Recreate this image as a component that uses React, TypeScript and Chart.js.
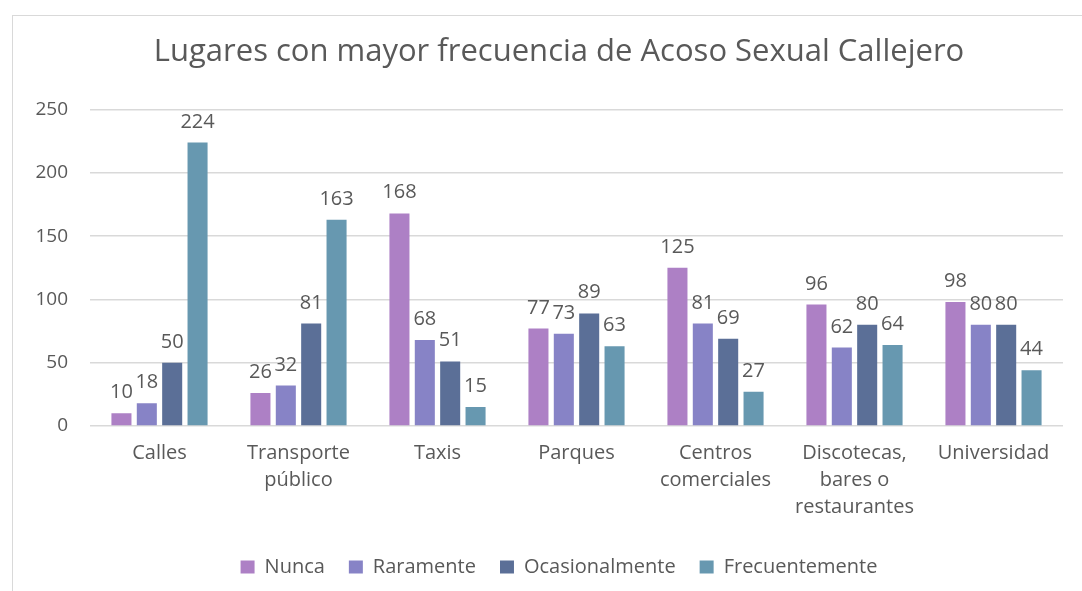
import React, { useEffect, useRef } from 'react';
import { Chart, registerables } from 'chart.js';

Chart.register(...registerables);

const chartTitle = 'Lugares con mayor frecuencia de Acoso Sexual Callejero';
const categories: string[][] = [
  ['Calles'],
  ['Transporte', 'público'],
  ['Taxis'],
  ['Parques'],
  ['Centros', 'comerciales'],
  ['Discotecas,', 'bares o', 'restaurantes'],
  ['Universidad'],
];
const seriesNames = ['Nunca', 'Raramente', 'Ocasionalmente', 'Frecuentemente'];
const nunca = [10, 26, 168, 77, 125, 96, 98];
const raramente = [18, 32, 68, 73, 81, 62, 80];
const ocasionalmente = [50, 81, 51, 89, 69, 80, 80];
const frecuentemente = [224, 163, 15, 63, 27, 64, 44];
const seriesColors = ['#AD80C5', '#8783C6', '#5B6F97', '#6798B0'];
const yMin = 0;
const yMax = 250;
const yStep = 50;

const FONT = '"Open Sans", "Noto Sans", sans-serif';
const TEXT = '#595959';

const dataLabelPlugin = {
  id: 'dataLabels',
  afterDatasetsDraw(chart: any) {
    const ctx = chart.ctx;
    ctx.save();
    ctx.font = `20px ${FONT}`;
    ctx.fillStyle = TEXT;
    ctx.textAlign = 'center';
    ctx.textBaseline = 'alphabetic';
    chart.data.datasets.forEach((ds: any, i: number) => {
      const meta = chart.getDatasetMeta(i);
      meta.data.forEach((bar: any, j: number) => {
        ctx.fillText(String(ds.data[j]), bar.x, bar.y - 15);
      });
    });
    ctx.restore();
  },
};

export default function App() {
  const ref = useRef<HTMLCanvasElement | null>(null);

  useEffect(() => {
    if (!ref.current) return;
    const allSeries = [nunca, raramente, ocasionalmente, frecuentemente];
    const chart = new Chart(ref.current, {
      type: 'bar',
      data: {
        labels: categories,
        datasets: seriesNames.map((name, i) => ({
          label: name,
          data: allSeries[i],
          backgroundColor: seriesColors[i],
          borderWidth: 0,
          categoryPercentage: 0.73,
          barPercentage: 0.79,
        })),
      },
      options: {
        animation: false,
        responsive: false,
        maintainAspectRatio: false,
        layout: { padding: { left: 0, right: 0, top: 0, bottom: 4 } },
        plugins: {
          title: {
            display: true,
            text: chartTitle,
            color: TEXT,
            font: { family: FONT, size: 31, weight: 'normal' },
            padding: { top: 18, bottom: 38.5 },
          },
          legend: {
            position: 'bottom',
            labels: {
              color: TEXT,
              font: { family: FONT, size: 20 },
              boxWidth: 14,
              boxHeight: 13,
              padding: 24,
            },
          },
          tooltip: { enabled: false },
        },
        scales: {
          x: {
            grid: { display: false },
            border: { display: false },
            ticks: {
              color: TEXT,
              font: { family: FONT, size: 20, lineHeight: 1.35 },
              padding: 6,
              maxRotation: 0,
              autoSkip: false,
            },
            afterFit(scale: any) {
              scale.height = 107;
            },
          },
          y: {
            min: yMin,
            max: yMax,
            grid: { color: '#d9d9d9', lineWidth: 1.5, drawTicks: false },
            border: { display: false },
            ticks: {
              stepSize: yStep,
              color: TEXT,
              font: { family: FONT, size: 19 },
              padding: 22,
            },
            afterFit(scale: any) {
              scale.width = 77;
            },
          },
          yRightSpace: {
            position: 'right',
            display: true,
            grid: { display: false },
            border: { display: false },
            ticks: { display: false },
            afterFit(scale: any) {
              scale.width = 42;
            },
          },
        },
      },
      plugins: [dataLabelPlugin],
    } as any);
    return () => chart.destroy();
  }, []);

  return (
    <>
      <style>{`html,body{margin:0;overflow:hidden;background:#fff;}`}</style>
      <div
        style={{
          position: 'absolute',
          left: 12,
          top: 15,
          width: 1092,
          height: 580,
          borderLeft: '1px solid #d9d9d9',
          borderTop: '1px solid #d9d9d9',
          background: '#fff',
        }}
      >
        <canvas ref={ref} width={1092} height={575} style={{ display: 'block' }} />
      </div>
    </>
  );
}
